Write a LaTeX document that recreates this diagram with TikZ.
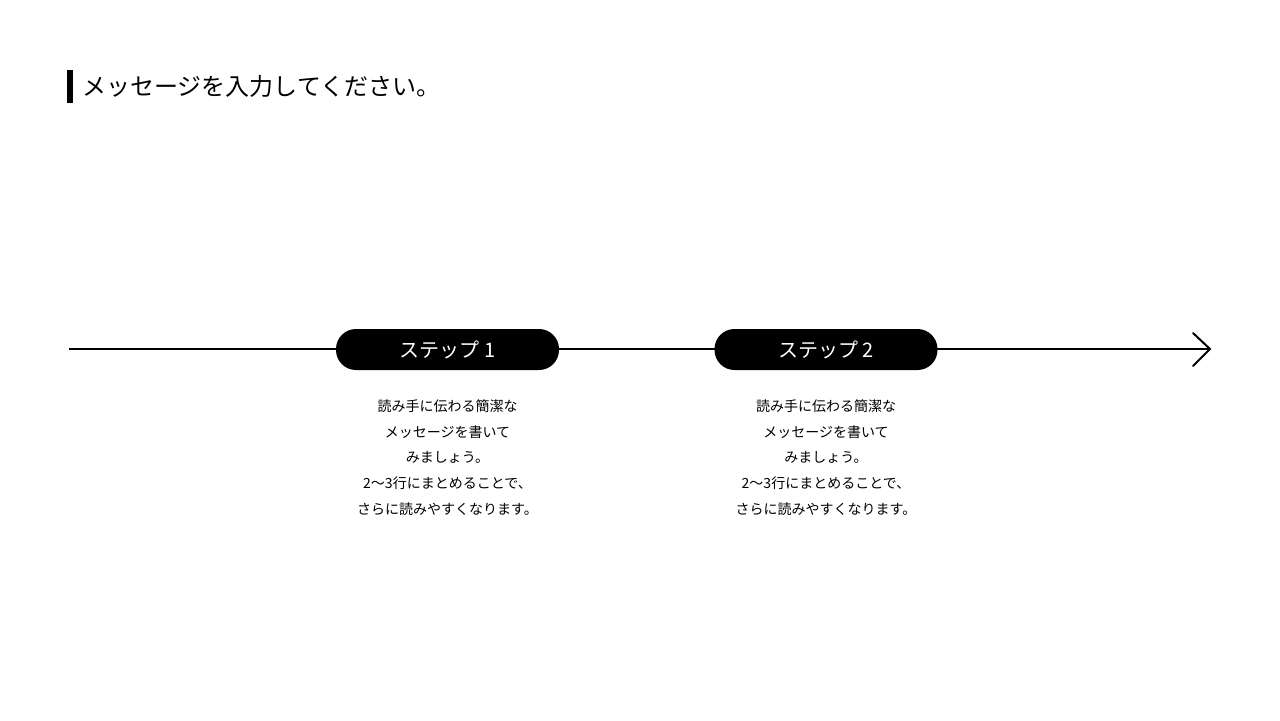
\documentclass[tikz,border=0pt]{standalone}
\usepackage{fontspec}
\newfontfamily\cjk{Noto Sans CJK JP}
\begin{document}
\begin{tikzpicture}[x=0.5pt,y=-0.5pt,
  pill/.style={fill=black,rounded corners=10pt,minimum width=111.5pt,minimum height=20.5pt,text=white,font=\cjk\fontsize{10}{12}\selectfont,inner sep=0pt},
  body/.style={align=center,font=\cjk\fontsize{7}{12.85}\selectfont,anchor=north}]
\useasboundingbox (0,0) rectangle (1280,720);
\fill (67,70) rectangle (73,103);
\node[anchor=west,font=\cjk\fontsize{12}{14}\selectfont,inner sep=0pt] (title) at (82,86) {メッセージを入力してください。};
\coordinate (start) at (69,349);
\coordinate (end) at (1210,349);
\draw[line width=1pt] (start) -- (end);
\draw[line width=1pt,line cap=round,line join=miter] (1193,333) -- (end) -- (1193,366);
\node[pill] (s1) at (447.5,349.5) {ステップ 1};
\node[pill] (s2) at (826,349.5) {ステップ 2};
\foreach \n in {s1,s2}{
\node[body] at ([yshift=-11pt]\n.south) {読み手に伝わる簡潔な\\メッセージを書いて\\みましょう。\\2〜3行にまとめることで、\\さらに読みやすくなります。};
}
\end{tikzpicture}
\end{document}
